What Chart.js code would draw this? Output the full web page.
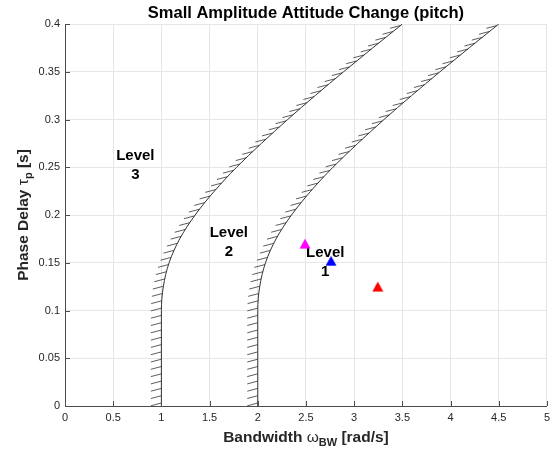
<!DOCTYPE html>
<html>
<head>
<meta charset="utf-8">
<title>Small Amplitude Attitude Change (pitch)</title>
<script src="https://cdn.jsdelivr.net/npm/chart.js@4.4.1/dist/chart.umd.min.js"></script>
<style>
  html, body { margin: 0; padding: 0; background: #fff; }
  #wrap { width: 555px; height: 449px; }
</style>
</head>
<body>
<div id="wrap"><canvas id="chart" width="555" height="449"></canvas></div>
<script>
'use strict';

/* ---------- data ---------- */
// level boundaries: bandwidth (rad/s) at each phase delay (s)
const boundaryTau = [0, 0.1, 0.125, 0.15, 0.175, 0.2, 0.225, 0.25, 0.3, 0.35, 0.4];
const level23Bw   = [1.0, 1.0, 1.02, 1.08, 1.19, 1.35, 1.55, 1.78, 2.31, 2.89, 3.5];
const level12Bw   = [2.0, 2.0, 2.02, 2.08, 2.19, 2.35, 2.55, 2.78, 3.31, 3.89, 4.5];

// measured configurations
const pointBw     = [2.49, 2.76, 3.245];
const pointTau    = [0.170, 0.152, 0.125];
const pointColors = ['#ff00ff', '#0000ff', '#ff0000'];

// region labels
const levelNames = [['Level', '3'], ['Level', '2'], ['Level', '1']];
const levelBw    = [0.73, 1.70, 2.70];
const levelTau   = [0.252, 0.171, 0.150];

const xTickLabels = ['0', '0.5', '1', '1.5', '2', '2.5', '3', '3.5', '4', '4.5', '5'];
const yTickLabels = ['0', '0.05', '0.1', '0.15', '0.2', '0.25', '0.3', '0.35', '0.4'];

/* ---------- style ---------- */
const FONT      = '"Liberation Sans", Arial, Helvetica, sans-serif';
const AXIS_CLR  = '#4d4d4d';
const TEXT_CLR  = '#262626';
const GRID_CLR  = '#e6e6e6';
const LINE_CLR  = '#333333';
const HATCH_GAP = 7.3;   // measured with x squeezed by HATCH_KX
const HATCH_KX  = 0.59;
const HATCH_DX  = -10.5;
const HATCH_DY  = 2.8;

// MATLAB-style '^' marker, centred on its bounding box
function triangleMarker(color) {
    const c = document.createElement('canvas');
    c.width = 12; c.height = 11;
    const g = c.getContext('2d');
    g.fillStyle = color;
    g.beginPath();
    g.moveTo(6, 0.5);
    g.lineTo(11.5, 10.5);
    g.lineTo(0.5, 10.5);
    g.closePath();
    g.fill();
    return c;
}

const boundaryDataset = (bw) => ({
    type: 'line',
    data: boundaryTau.map((t, i) => ({ x: bw[i], y: t })),
    borderColor: LINE_CLR,
    borderWidth: 1,
    pointRadius: 0,
    cubicInterpolationMode: 'monotone',
    fill: false,
    isBoundary: true
});

const datasets = [boundaryDataset(level23Bw), boundaryDataset(level12Bw)];
pointBw.forEach((bw, i) => {
    datasets.push({
        type: 'line',
        data: [{ x: bw, y: pointTau[i] }],
        showLine: false,
        pointStyle: triangleMarker(pointColors[i]),
        pointRadius: 6,
        backgroundColor: pointColors[i],
        borderColor: pointColors[i]
    });
});

/* ---------- drawing helpers ---------- */
function drawRich(ctx, parts, cx, cy) {
    let total = 0;
    parts.forEach(p => { ctx.font = p.font; p.w = ctx.measureText(p.text).width; total += p.w; });
    let x = cx - total / 2;
    parts.forEach(p => {
        ctx.font = p.font;
        ctx.fillText(p.text, x, cy + (p.dy || 0));
        x += p.w;
    });
}

function hatchCurve(ctx, pts) {
    // sample the drawn spline so the hatches sit on the curve
    const s = [];
    for (let i = 0; i < pts.length - 1; i++) {
        const a = pts[i], b = pts[i + 1];
        const c1x = a.cp2x ?? a.x, c1y = a.cp2y ?? a.y;
        const c2x = b.cp1x ?? b.x, c2y = b.cp1y ?? b.y;
        for (let k = 0; k < 60; k++) {
            const t = k / 60, u = 1 - t;
            s.push([
                u * u * u * a.x + 3 * u * u * t * c1x + 3 * u * t * t * c2x + t * t * t * b.x,
                u * u * u * a.y + 3 * u * u * t * c1y + 3 * u * t * t * c2y + t * t * t * b.y
            ]);
        }
    }
    const last = pts[pts.length - 1];
    s.push([last.x, last.y]);

    let acc = 0, next = 3;
    ctx.beginPath();
    for (let i = 1; i < s.length; i++) {
        const dx = s[i][0] - s[i - 1][0], dy = s[i][1] - s[i - 1][1];
        const len = Math.hypot(dx * HATCH_KX, dy);
        while (len > 0 && acc + len >= next) {
            const f = (next - acc) / len;
            const px = s[i - 1][0] + dx * f, py = s[i - 1][1] + dy * f;
            ctx.moveTo(px, py);
            ctx.lineTo(px + HATCH_DX, py + HATCH_DY);
            next += HATCH_GAP;
        }
        acc += len;
    }
    ctx.stroke();
}

const decorations = {
    id: 'decorations',
    beforeDatasetsDraw(chart) {
        const { ctx, scales: { x, y } } = chart;
        ctx.save();
        ctx.fillStyle = '#000';
        ctx.font = 'bold 15px ' + FONT;
        ctx.textAlign = 'center';
        ctx.textBaseline = 'middle';
        levelNames.forEach((lines, i) => {
            const px = x.getPixelForValue(levelBw[i]);
            const py = y.getPixelForValue(levelTau[i]);
            ctx.fillText(lines[0], px, py - 9.5);
            ctx.fillText(lines[1], px, py + 9.5);
        });
        ctx.restore();
    },
    afterDatasetsDraw(chart) {
        const { ctx, chartArea: a, scales: { x, y } } = chart;
        ctx.save();
        ctx.strokeStyle = LINE_CLR;
        ctx.lineWidth = 0.8;
        chart.data.datasets.forEach((ds, i) => {
            if (ds.isBoundary) hatchCurve(ctx, chart.getDatasetMeta(i).data);
        });

        // inward tick marks
        ctx.strokeStyle = AXIS_CLR;
        ctx.lineWidth = 1;
        ctx.beginPath();
        x.ticks.forEach(t => {
            const px = Math.round(x.getPixelForValue(t.value)) + 0.5;
            ctx.moveTo(px, a.bottom);
            ctx.lineTo(px, a.bottom - 5);
        });
        y.ticks.forEach(t => {
            const py = Math.round(y.getPixelForValue(t.value)) + 0.5;
            ctx.moveTo(a.left, py);
            ctx.lineTo(a.left + 5, py);
        });
        ctx.stroke();
        ctx.restore();
    },
    afterDraw(chart) {
        const { ctx, chartArea: a } = chart;
        const cx = (a.left + a.right) / 2;
        ctx.save();
        ctx.textBaseline = 'middle';
        ctx.textAlign = 'left';

        ctx.fillStyle = '#000';
        drawRich(ctx, [{ text: 'Small Amplitude Attitude Change (pitch)', font: 'bold 16.5px ' + FONT }], cx, 13);

        ctx.fillStyle = TEXT_CLR;
        drawRich(ctx, [
            { text: 'Bandwidth ', font: 'bold 15.5px ' + FONT },
            { text: 'ω', font: '15.5px ' + FONT },
            { text: 'BW', font: 'bold 11px ' + FONT, dy: 4.5 },
            { text: ' [rad/s]', font: 'bold 15.5px ' + FONT }
        ], cx, 438);

        ctx.translate(24, (a.top + a.bottom) / 2);
        ctx.rotate(-Math.PI / 2);
        drawRich(ctx, [
            { text: 'Phase Delay ', font: 'bold 15.5px ' + FONT },
            { text: 'τ', font: '15.5px ' + FONT },
            { text: 'p', font: 'bold 11px ' + FONT, dy: 4.5 },
            { text: ' [s]', font: 'bold 15.5px ' + FONT }
        ], 0, 0);
        ctx.restore();
    }
};

new Chart(document.getElementById('chart'), {
    type: 'line',
    data: { datasets },
    plugins: [decorations],
    options: {
        indexAxis: 'y',
        responsive: false,
        devicePixelRatio: 1,
        animation: false,
        events: [],
        layout: { padding: { top: 24, right: 7, left: 0, bottom: 0 } },
        plugins: { legend: { display: false }, tooltip: { enabled: false }, title: { display: false } },
        scales: {
            x: {
                type: 'linear',
                position: 'bottom',
                min: 0, max: 5,
                afterFit: s => { s.height = 43; },
                grid: { color: GRID_CLR, drawTicks: false },
                border: { color: AXIS_CLR },
                ticks: {
                    stepSize: 0.5,
                    padding: 5,
                    color: TEXT_CLR,
                    font: { family: FONT, size: 11 },
                    maxRotation: 0,
                    autoSkip: false,
                    callback: (v, i) => xTickLabels[i]
                }
            },
            y: {
                type: 'linear',
                position: 'left',
                min: 0, max: 0.4,
                afterFit: s => { s.width = 65; },
                grid: { color: GRID_CLR, drawTicks: false },
                border: { color: AXIS_CLR },
                ticks: {
                    stepSize: 0.05,
                    padding: 5,
                    color: TEXT_CLR,
                    font: { family: FONT, size: 11 },
                    autoSkip: false,
                    callback: (v, i) => yTickLabels[i]
                }
            }
        }
    }
});
</script>
</body>
</html>
